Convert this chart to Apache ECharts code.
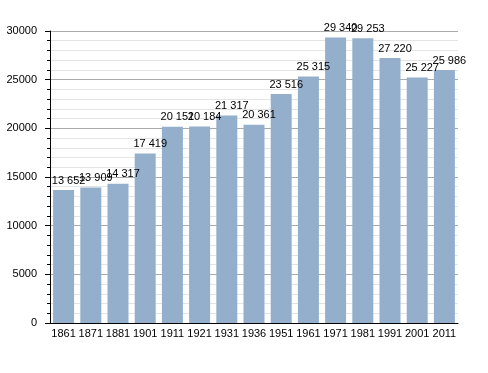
<!DOCTYPE html>
<html><head><meta charset="utf-8">
<script src="https://cdn.jsdelivr.net/npm/echarts@6/dist/echarts.min.js"></script>
<style>html,body{margin:0;padding:0;background:#fff}#c{width:488px;height:373px}</style>
</head><body><div id="c"></div>
<script>
var categories = ['1861','1871','1881','1901','1911','1921','1931','1936','1951','1961','1971','1981','1991','2001','2011'];
var population = [13652,13909,14317,17419,20151,20184,21317,20361,23516,25315,29340,29253,27220,25227,25986];
var yTicks = [0,5000,10000,15000,20000,25000,30000];

var chart = echarts.init(document.getElementById('c'), null, {renderer:'canvas'});
function fmt(v){ return String(v).replace(/\B(?=(\d{3})+(?!\d))/g,' '); }
chart.setOption({
  animation:false,
  backgroundColor:'#fff',
  grid:{left:50,right:30,top:31,bottom:50},
  xAxis:{
    type:'category', data:categories,
    axisLine:{lineStyle:{color:'#000',width:1}},
    axisTick:{show:false},
    axisLabel:{color:'#000',fontSize:11,fontFamily:'Liberation Sans',margin:5,interval:0}
  },
  yAxis:{
    type:'value', min:yTicks[0], max:yTicks[yTicks.length-1], interval:5000,
    axisLine:{show:true,lineStyle:{color:'#000',width:1}},
    axisTick:{show:true,length:5,lineStyle:{color:'#000'}},
    minorTick:{show:true,splitNumber:5,length:3,lineStyle:{color:'#000'}},
    splitLine:{show:true,lineStyle:{color:'#aaa',width:1}},
    minorSplitLine:{show:true,lineStyle:{color:'#e4e4e4',width:1}},
    axisLabel:{color:'#000',fontSize:11,fontFamily:'Liberation Sans',margin:13,
      formatter:function(v){return String(v);}}
  },
  series:[{
    type:'bar', data:population, barWidth:21,
    itemStyle:{color:'#94afcc'},
    label:{show:true,position:'top',distance:4,offset:[5,0],color:'#000',fontSize:11,fontFamily:'Liberation Sans',
      formatter:function(p){return fmt(p.value);}}
  }]
});
</script></body></html>
